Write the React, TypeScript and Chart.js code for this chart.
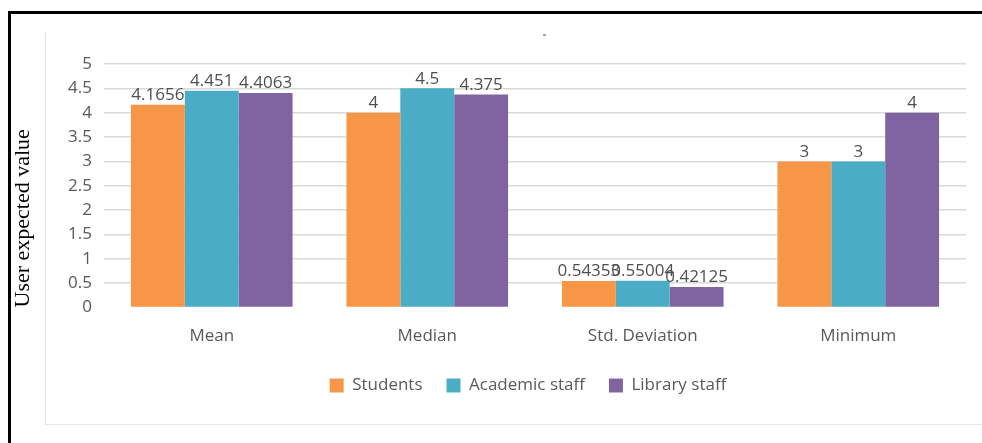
import React, { useEffect, useRef } from "react";
import { Chart, registerables } from "chart.js";

Chart.register(...registerables);

const categories = ["Mean", "Median", "Std. Deviation", "Minimum"];
const seriesNames = ["Students", "Academic staff", "Library staff"];
const students = [4.1656, 4, 0.54353, 3];
const academicStaff = [4.451, 4.5, 0.55004, 3];
const libraryStaff = [4.4063, 4.375, 0.42125, 4];
const seriesColors = ["#F79646", "#4BACC6", "#8064A2"];
const yTitle = "User expected value";

const SANS = "'Open Sans', 'Noto Sans', sans-serif";

const dataLabels = {
  id: "dataLabels",
  afterDatasetsDraw(chart: any) {
    const ctx = chart.ctx;
    ctx.save();
    ctx.font = `17px ${SANS}`;
    ctx.fillStyle = "#505050";
    ctx.textAlign = "center";
    ctx.textBaseline = "bottom";
    chart.data.datasets.forEach((ds: any, di: number) => {
      const meta = chart.getDatasetMeta(di);
      meta.data.forEach((el: any, i: number) => {
        ctx.fillText(String(ds.data[i]), el.x, el.y - 1);
      });
    });
    ctx.restore();
  },
};

const legendPlacer = {
  id: "legendPlacer",
  beforeDraw(chart: any) {
    const lg = chart.legend;
    if (!lg) return;
    const c = (chart.chartArea.left + chart.chartArea.right) / 2 - 7;
    lg.left = c - 400;
    lg.right = c + 400;
  },
};

export default function App() {
  const ref = useRef<HTMLCanvasElement>(null);
  useEffect(() => {
    if (!ref.current) return;
    const chart = new Chart(ref.current, {
      type: "bar",
      data: {
        labels: categories,
        datasets: [
          { label: seriesNames[0], data: students, backgroundColor: seriesColors[0] },
          { label: seriesNames[1], data: academicStaff, backgroundColor: seriesColors[1] },
          { label: seriesNames[2], data: libraryStaff, backgroundColor: seriesColors[2] },
        ],
      },
      options: {
        animation: false,
        responsive: false,
        maintainAspectRatio: false,
        layout: { padding: { top: 50, right: 16, left: 0, bottom: 0 } },
        datasets: { bar: { categoryPercentage: 0.75, barPercentage: 1, borderWidth: 0 } },
        plugins: {
          legend: {
            position: "bottom",
            labels: {
              boxWidth: 14,
              boxHeight: 14,
              padding: 24,
              color: "#595959",
              font: { family: SANS, size: 17 },
            },
          },
          tooltip: { enabled: false },
        },
        scales: {
          x: {
            grid: { display: false, drawTicks: false },
            border: { display: false },
            ticks: { color: "#595959", padding: 18, font: { family: SANS, size: 17 } },
            afterFit: (s: any) => {
              s.height = 45.5;
            },
          },
          y: {
            min: 0,
            max: 5,
            border: { display: false },
            grid: {
              drawTicks: false,
              lineWidth: 1.5,
              color: (c: any) => (c.tick && c.tick.value === 0 ? "rgba(0,0,0,0)" : "#d9d9d9"),
            },
            ticks: {
              stepSize: 0.5,
              padding: 12,
              color: "#595959",
              font: { family: SANS, size: 17 },
              callback: (v: any) => `${v}`,
            },
            title: {
              display: true,
              text: yTitle,
              align: "start",
              color: "#000",
              font: { family: "'Liberation Serif', 'Times New Roman', serif", size: 22, lineHeight: 1 },
              padding: { top: 2, bottom: 0 },
            },
            afterFit: (s: any) => {
              s.width = 94;
            },
          },
        },
      },
      plugins: [dataLabels, legendPlacer],
    });
    return () => chart.destroy();
  }, []);

  return (
    <div style={{ position: "fixed", left: 0, top: 0, width: 982, height: 443, overflow: "hidden", background: "#fff" }}>
      <div style={{ position: "absolute", left: 8, top: 11, width: 1000, height: 500, borderTop: "3px solid #000", borderLeft: "3px solid #000" }} />
      <div style={{ position: "absolute", left: 45, top: 33, width: 1000, height: 391, borderLeft: "1px solid #e6e6e6", borderBottom: "1px solid #e6e6e6" }} />
      <div style={{ position: "absolute", left: 543, top: 34, width: 3, height: 2, background: "#aaa" }} />
      <canvas ref={ref} width={972} height={390} style={{ position: "absolute", left: 10, top: 14, width: 972, height: 390 }} />
    </div>
  );
}
